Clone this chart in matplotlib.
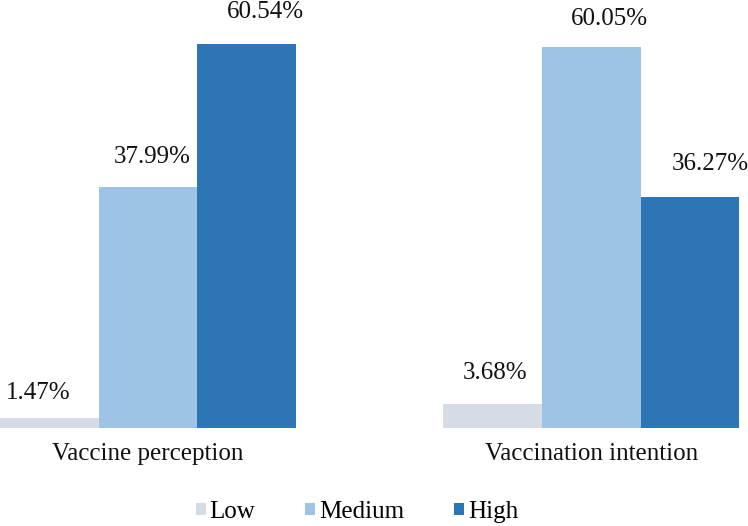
import matplotlib.pyplot as plt
from matplotlib.patches import Patch

# datos (porcentajes)
groups = ["Vaccine perception", "Vaccination intention"]
levels = ["Low", "Medium", "High"]
low_vals = [1.47, 3.68]
medium_vals = [37.99, 60.05]
high_vals = [60.54, 36.27]

colors = ["#D5DCE6", "#9DC3E6", "#2E75B6"]

# desplazamiento manual de cada etiqueta (pixeles), como en el original
nudges = {
    "Low": [(-11, 19), (2, 25)],
    "Medium": [(4, 24), (18, 22)],
    "High": [(19, 26), (20, 27)],
}

plt.rcParams["font.family"] = ["Liberation Serif", "DejaVu Serif"]
FS = 18

fig = plt.figure(figsize=(7.48, 5.26), dpi=100)
ax = fig.add_axes([0, 98.5 / 526, 1, 427.5 / 526])

group_gap = 4.5
centers = [i * group_gap for i in range(len(groups))]
series = [low_vals, medium_vals, high_vals]

for k, (name, vals) in enumerate(zip(levels, series)):
    xs = [c + (k - 1) for c in centers]
    ax.bar(xs, vals, width=1.0, color=colors[k], linewidth=0)
    for j, (x, v) in enumerate(zip(xs, vals)):
        dx, dy = nudges[name][j]
        ax.annotate(f"{v:.2f}%", (x, v), xytext=(dx, dy),
                    textcoords="offset pixels", ha="center", va="baseline",
                    fontsize=FS, color="#111111", annotation_clip=False)

ax.set_xlim(-1.5, 6.09)
ax.set_ylim(0, 67.4)
ax.set_xticks(centers)
ax.set_xticklabels(groups, fontsize=FS, color="#111111")
ax.tick_params(axis="x", length=0, pad=11)
ax.set_yticks([])
for s in ax.spines.values():
    s.set_visible(False)

handles = [Patch(facecolor=c, edgecolor="none") for c in colors]
fig.legend(handles, levels, loc="center", bbox_to_anchor=(357 / 748, 1 - 512 / 526),
           ncol=3, frameon=False, fontsize=FS, handlelength=0.4, handleheight=0.4,
           handletextpad=0.15, columnspacing=2.0, borderpad=0)

fig.savefig("out.png", dpi=100)
